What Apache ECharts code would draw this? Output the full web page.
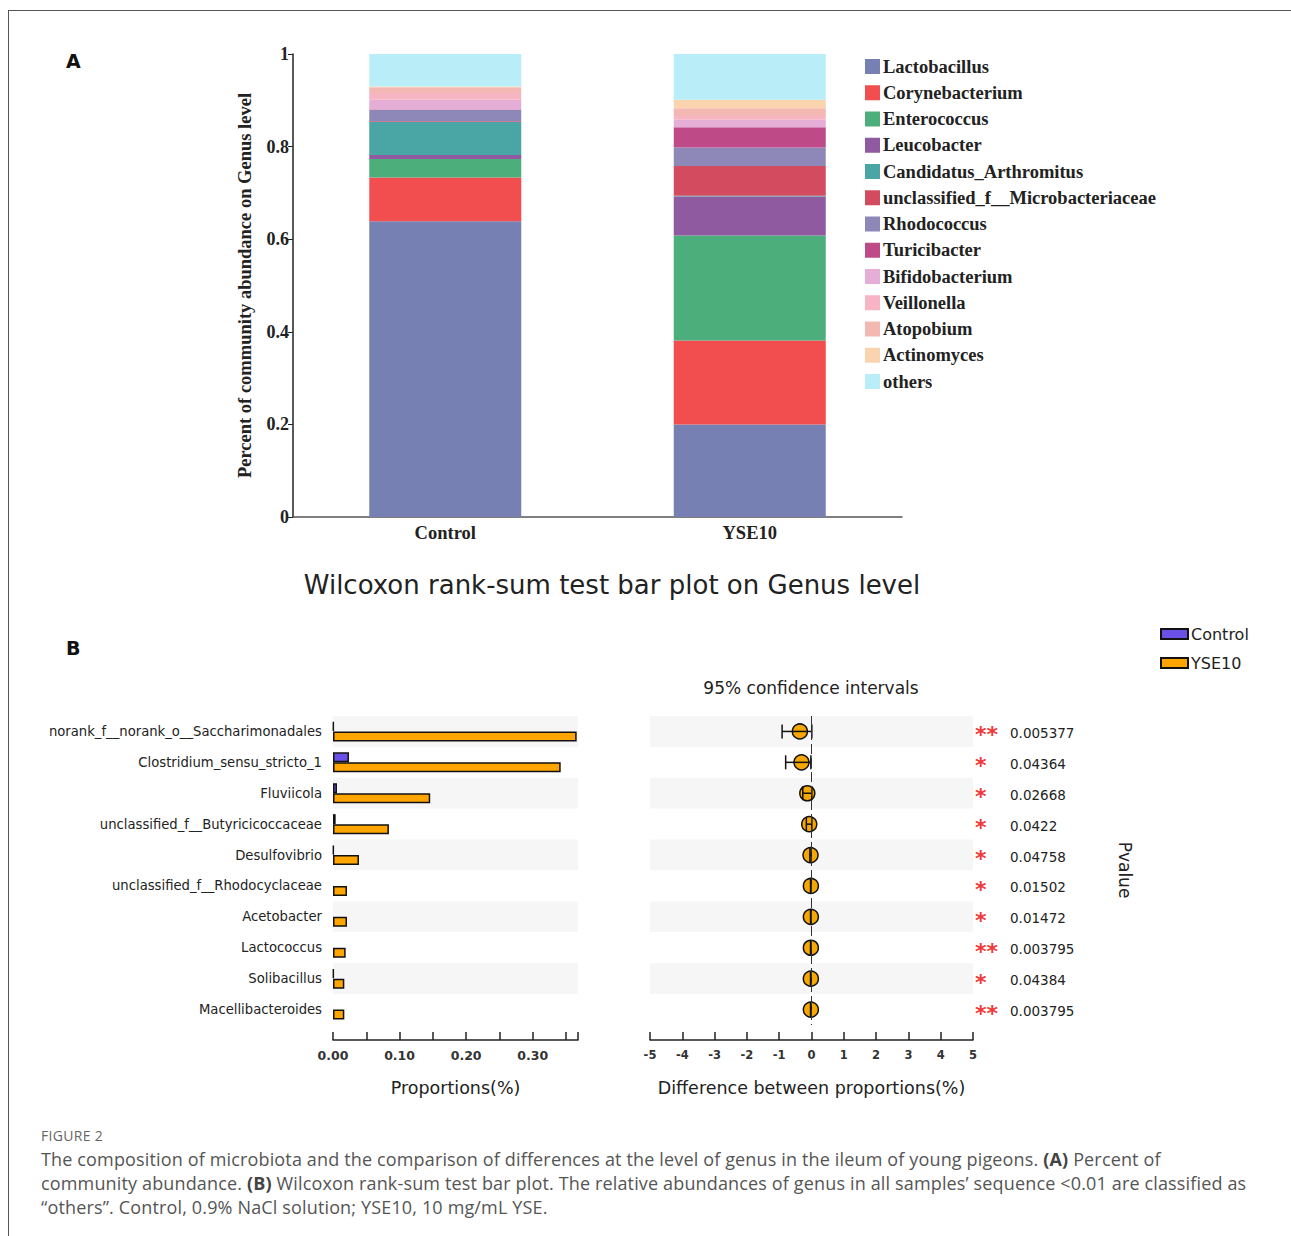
<!DOCTYPE html>
<html>
<head>
<meta charset="utf-8">
<script src="https://cdn.jsdelivr.net/npm/echarts@6/dist/echarts.min.js"></script>
<style>
  body { margin: 0; background: #fff; }
  #wrap { position: relative; width: 1291px; height: 1236px; overflow: hidden; background: #fff; }
  #frame { position: absolute; left: 8px; top: 10px; width: 1400px; height: 1400px; border-left: 1px solid #555; border-top: 1px solid #555; }
  #main { position: absolute; left: 0; top: 0; width: 1291px; height: 1236px; }
  #caption { position: absolute; left: 41px; top: 1127px; font-family: 'Open Sans', sans-serif; color: #555; white-space: nowrap; }
  #caption .fig { font-size: 14px; line-height: 18px; color: #666; letter-spacing: 0.3px; }
  #caption .txt { font-size: 18px; line-height: 24px; margin-top: 2px; letter-spacing: 0.15px; }
  #caption b { color: #444; }
</style>
</head>
<body>
<div id="wrap">
  <div id="frame"></div>
  <div id="main"></div>
  <div id="caption">
    <div class="fig">FIGURE 2</div>
    <div class="txt">The composition of microbiota and the comparison of differences at the level of genus in the ileum of young pigeons. <b>(A)</b> Percent of<br>community abundance. <b>(B)</b> Wilcoxon rank-sum test bar plot. The relative abundances of genus in all samples’ sequence &lt;0.01 are classified as<br>“others”. Control, 0.9% NaCl solution; YSE10, 10 mg/mL YSE.</div>
  </div>
</div>
<script>
// panel A - community abundance (stacked, bottom to top)
var groupsA = ['Control', 'YSE10'];
var genusA = ['Lactobacillus', 'Corynebacterium', 'Enterococcus', 'Leucobacter', 'Candidatus_Arthromitus',
  'unclassified_f__Microbacteriaceae', 'Rhodococcus', 'Turicibacter', 'Bifidobacterium', 'Veillonella',
  'Atopobium', 'Actinomyces', 'others'];
var controlAbund = [0.639, 0.094, 0.040, 0.009, 0.071, 0.002, 0.024, 0.001, 0.021, 0.015, 0.012, 0.002, 0.070];
var yse10Abund   = [0.200, 0.181, 0.227, 0.084, 0.002, 0.064, 0.040, 0.044, 0.016, 0.008, 0.017, 0.018, 0.099];

// panel B - wilcoxon rank-sum test (null = no bar drawn)
var genusB = ['norank_f__norank_o__Saccharimonadales', 'Clostridium_sensu_stricto_1', 'Fluviicola',
  'unclassified_f__Butyricicoccaceae', 'Desulfovibrio', 'unclassified_f__Rhodocyclaceae', 'Acetobacter',
  'Lactococcus', 'Solibacillus', 'Macellibacteroides'];
var controlProp = [0.001, 0.024, 0.006, 0.004, 0.001, null, null, null, 0.001, null];
var yse10Prop   = [0.366, 0.342, 0.146, 0.084, 0.039, 0.021, 0.021, 0.019, 0.017, 0.017];
var diffMean = [-0.36, -0.31, -0.13, -0.07, -0.03, -0.02, -0.02, -0.02, -0.02, -0.02];
var ciLow    = [-0.91, -0.80, -0.27, -0.16, -0.05, -0.03, -0.03, -0.03, -0.03, -0.03];
var ciHigh   = [0.01, -0.02, 0.01, 0.01, -0.01, -0.01, -0.01, -0.01, -0.01, -0.01];
var stars  = ['**', '*', '*', '*', '*', '*', '*', '**', '*', '**'];
var pvalue = ['0.005377', '0.04364', '0.02668', '0.0422', '0.04758', '0.01502', '0.01472', '0.003795', '0.04384', '0.003795'];

var xTicksB = [0, 0.1, 0.2, 0.3];

var colorsA = ['#7680b2', '#f24d4f', '#4caf7b', '#8f5aa0', '#4aa6a5', '#d24b5f', '#8e88b9', '#be4b87',
  '#e4aed7', '#f7b5c3', '#f4b8b3', '#f9d4ae', '#b9eef8'];

var serif = '"Liberation Serif", "Times New Roman", serif';
var sans = '"DejaVu Sans", Verdana, sans-serif';

var series = [];
genusA.forEach(function (g, i) {
  series.push({
    name: g, type: 'bar', stack: 'abund', xAxisIndex: 0, yAxisIndex: 0,
    barWidth: 152,
    data: [controlAbund[i], yse10Abund[i]],
    itemStyle: { color: colorsA[i] }
  });
});

series.push({
  name: 'Control', type: 'bar', xAxisIndex: 1, yAxisIndex: 1,
  barWidth: 10, barGap: '0%',
  data: controlProp,
  itemStyle: { color: '#6a50e6', borderColor: '#111', borderWidth: 1.5 }
});
series.push({
  name: 'YSE10', type: 'bar', xAxisIndex: 1, yAxisIndex: 1,
  barWidth: 10, barGap: '0%',
  data: yse10Prop,
  itemStyle: { color: '#ffa500', borderColor: '#111', borderWidth: 1.5 }
});

series.push({
  type: 'scatter', xAxisIndex: 2, yAxisIndex: 2,
  symbolSize: 15,
  data: genusB.map(function (g, i) { return [diffMean[i], g]; }),
  itemStyle: { color: '#f7a800', borderColor: '#111', borderWidth: 1.5, opacity: 1 },
  markLine: {
    silent: true, symbol: 'none', label: { show: false },
    lineStyle: { color: '#333', width: 1, type: [10, 4] },
    data: [{ xAxis: 0 }]
  },
  z: 3
});

series.push({
  type: 'custom', xAxisIndex: 2, yAxisIndex: 2,
  data: genusB.map(function (g, i) { return [ciLow[i], ciHigh[i], i]; }),
  encode: { x: [0, 1], y: 2 },
  renderItem: function (params, api) {
    var lo = api.coord([api.value(0), api.value(2)]);
    var hi = api.coord([api.value(1), api.value(2)]);
    var h = 7;
    var st = { stroke: '#111', lineWidth: 1.5 };
    return {
      type: 'group',
      children: [
        { type: 'line', shape: { x1: lo[0], y1: lo[1], x2: hi[0], y2: hi[1] }, style: st },
        { type: 'line', shape: { x1: lo[0], y1: lo[1] - h, x2: lo[0], y2: lo[1] + h }, style: st },
        { type: 'line', shape: { x1: hi[0], y1: hi[1] - h, x2: hi[0], y2: hi[1] + h }, style: st }
      ]
    };
  },
  z: 4
});

var option = {
  backgroundColor: 'transparent',
  animation: false,
  grid: [
    { left: 293, top: 54, width: 609, height: 463 },
    { left: 333, top: 716, width: 245, height: 309 },
    { left: 650, top: 716, width: 323, height: 309 }
  ],
  legend: [
    {
      data: genusA, orient: 'vertical', left: 860, top: 52,
      icon: 'rect', itemWidth: 15, itemHeight: 15, itemGap: 7.25,
      textStyle: { fontFamily: serif, fontWeight: 'bold', fontSize: 18.5, color: '#222', padding: [0, 0, 0, -2] }
    },
    {
      data: ['Control', 'YSE10'], orient: 'vertical', left: 1155, top: 621,
      icon: 'rect', itemWidth: 27, itemHeight: 10, itemGap: 13,
      textStyle: { fontFamily: sans, fontSize: 16, color: '#222', padding: [0, 0, 0, -2] }
    }
  ],
  xAxis: [
    {
      type: 'category', gridIndex: 0, data: groupsA,
      axisLine: { lineStyle: { color: '#555', width: 1.5 } },
      axisTick: { alignWithLabel: true, length: 5, lineStyle: { color: '#555' } },
      axisLabel: { fontFamily: serif, fontWeight: 'bold', fontSize: 18.5, color: '#222', margin: 6 },
      splitLine: { show: false }
    },
    {
      type: 'value', gridIndex: 1, min: 0, max: 0.368, interval: 0.05, offset: 15,
      name: 'Proportions(%)', nameLocation: 'middle', nameGap: 39,
      nameTextStyle: { fontFamily: sans, fontSize: 17.5, color: '#222' },
      axisLine: { show: true, lineStyle: { color: '#222', width: 1.5 } },
      axisTick: { show: true, inside: true, length: 8, lineStyle: { color: '#222', width: 1.5 } },
      axisLabel: {
        fontFamily: sans, fontWeight: 'bold', fontSize: 12.5, color: '#333', margin: 9, showMaxLabel: true,
        formatter: function (v) {
          for (var k = 0; k < xTicksB.length; k++) {
            if (Math.abs(v - xTicksB[k]) < 1e-6) return xTicksB[k].toFixed(2);
          }
          return '';
        }
      },
      splitLine: { show: false }
    },
    {
      type: 'value', gridIndex: 2, min: -5, max: 5, interval: 1, offset: 15,
      name: 'Difference between proportions(%)', nameLocation: 'middle', nameGap: 39,
      nameTextStyle: { fontFamily: sans, fontSize: 17.5, color: '#222' },
      axisLine: { show: true, lineStyle: { color: '#222', width: 1.5 } },
      axisTick: { show: true, inside: true, length: 8, lineStyle: { color: '#222', width: 1.5 } },
      axisLabel: { fontFamily: sans, fontWeight: 'bold', fontSize: 11.5, color: '#333', margin: 9 },
      splitLine: { show: false }
    }
  ],
  yAxis: [
    {
      type: 'value', gridIndex: 0, min: 0, max: 1, interval: 0.2,
      name: 'Percent of community abundance on Genus level', nameLocation: 'middle', nameGap: 38.5,
      nameTextStyle: { fontFamily: serif, fontWeight: 'bold', fontSize: 18.5, color: '#222' },
      axisLine: { show: true, lineStyle: { color: '#222', width: 1.5 } },
      axisTick: { show: true, length: 5, lineStyle: { color: '#222' } },
      axisLabel: { fontFamily: serif, fontWeight: 'bold', fontSize: 18, color: '#222', margin: 4 },
      splitLine: { show: false }
    },
    {
      type: 'category', gridIndex: 1, data: genusB, inverse: true,
      axisLine: { show: false }, axisTick: { show: false },
      axisLabel: { fontFamily: sans, fontSize: 13.2, color: '#222', margin: 11, padding: [6, 0, 0, 0] },
      splitArea: { show: true, areaStyle: { color: ['#f6f6f6', '#ffffff'] } },
      splitLine: { show: false }
    },
    {
      type: 'category', gridIndex: 2, data: genusB, inverse: true, position: 'right',
      axisLine: { show: false }, axisTick: { show: false },
      axisLabel: {
        margin: 2, align: 'left',
        formatter: function (v, i) { return '{s|' + stars[i] + '}{p|' + pvalue[i] + '}'; },
        rich: {
          s: { fontFamily: sans, fontSize: 22, fontWeight: 'bold', color: '#f03a3a', width: 35, padding: [7, 0, 0, 0] },
          p: { fontFamily: sans, fontSize: 13.5, color: '#222', padding: [3, 0, 0, 0] }
        }
      },
      splitArea: { show: true, areaStyle: { color: ['#f6f6f6', '#ffffff'] } },
      splitLine: { show: false }
    }
  ],
  graphic: [
    { type: 'text', left: 66, top: 51, style: { text: 'A', font: 'bold 19px ' + sans, fill: '#111' } },
    { type: 'text', left: 66, top: 638, style: { text: 'B', font: 'bold 19px ' + sans, fill: '#111' } },
    { type: 'text', x: 612, y: 585, style: { text: 'Wilcoxon rank-sum test bar plot on Genus level', font: '26px ' + sans, fill: '#222', align: 'center', verticalAlign: 'middle' } },
    { type: 'text', x: 811, y: 688, style: { text: '95% confidence intervals', font: '17px ' + sans, fill: '#222', align: 'center', verticalAlign: 'middle' } },
    { type: 'text', x: 1125, y: 870, rotation: -Math.PI / 2, style: { text: 'Pvalue', font: '17px ' + sans, fill: '#222', align: 'center', verticalAlign: 'middle' } }
  ],
  series: series
};

var chart = echarts.init(document.getElementById('main'), null, { renderer: 'svg' });
chart.setOption(option);
</script>
</body>
</html>
